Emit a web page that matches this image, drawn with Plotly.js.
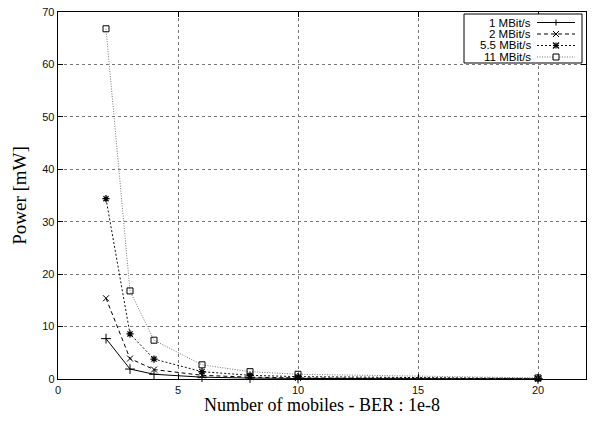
<!DOCTYPE html>
<html>
<head>
<meta charset="utf-8">
<script src="https://cdn.plot.ly/plotly-3.0.1.min.js"></script>
<style>
  html, body { margin: 0; padding: 0; background: #fff; }
  #chart { width: 593px; height: 421px; }
</style>
</head>
<body>
<div id="chart"></div>
<script>
// Number of mobiles (x) and transmit power in mW for each data rate
const mobiles = [2, 3, 4, 6, 8, 10, 20];
const power1   = [7.7, 1.9, 0.9, 0.35, 0.18, 0.1, 0.03];
const power2   = [15.4, 3.9, 1.8, 0.7, 0.35, 0.2, 0.05];
const power5_5 = [34.4, 8.6, 3.8, 1.4, 0.7, 0.45, 0.1];
const power11  = [66.8, 16.8, 7.4, 2.7, 1.4, 0.9, 0.2];
const seriesNames = ['1 MBit/s', '2 MBit/s', '5.5 MBit/s', '11 MBit/s'];

const styles = [
  { dash: 'solid',     color: '#000', symbol: 'cross-thin-open',  size: 7, mw: 1 },
  { dash: '4px,3px',   color: '#000', symbol: 'x-thin-open',      size: 6, mw: 1 },
  { dash: '2px,2px',   color: '#111', symbol: 'asterisk-open',    size: 6, mw: 1.3 },
  { dash: '1px,1.5px', color: '#777', symbol: 'square-open',      size: 6, mw: 1 }
];
const allValues = [power1, power2, power5_5, power11];

const traces = allValues.map((vals, i) => ({
  type: 'scatter',
  mode: 'lines+markers',
  x: mobiles,
  y: vals,
  name: seriesNames[i],
  line: { color: styles[i].color, width: 1, dash: styles[i].dash },
  marker: { symbol: styles[i].symbol, size: styles[i].size, color: '#000',
            line: { color: '#000', width: styles[i].mw } },
  showlegend: false,
  cliponaxis: false
}));

// Plot area in pixels, used to place the boxed key in the top-right corner
const W = 593, H = 421;
const M = { l: 58, r: 7, t: 12, b: 42 };
const pw = W - M.l - M.r, ph = H - M.t - M.b;
const px = X => (X - M.l) / pw;
const py = Y => (H - M.b - Y) / ph;

const shapes = [];
const annotations = [];
// key frame
shapes.push({ type: 'rect', xref: 'paper', yref: 'paper',
  x0: px(464), x1: px(582), y0: py(63), y1: py(14),
  line: { color: '#000', width: 1 }, fillcolor: '#fff', layer: 'above' });

const rowY = [22.5, 34, 45.5, 57];
const sx0 = 537, sx1 = 575, sm = 556;
rowY.forEach((Y, i) => {
  annotations.push({ xref: 'paper', yref: 'paper', x: px(532), y: py(Y),
    xanchor: 'right', yanchor: 'middle', showarrow: false, borderpad: 0,
    text: seriesNames[i], font: { family: 'Liberation Sans, Arial', size: 11.5, color: '#000' } });
  shapes.push({ type: 'line', xref: 'paper', yref: 'paper', layer: 'above',
    x0: px(sx0), x1: px(sx1), y0: py(Y), y1: py(Y),
    line: { color: styles[i].color, width: 1, dash: styles[i].dash } });
  const r = 3;
  const seg = (a, b, c, d, w) => shapes.push({ type: 'line', xref: 'paper', yref: 'paper', layer: 'above',
    x0: px(a), y0: py(b), x1: px(c), y1: py(d), line: { color: '#000', width: w || 1 } });
  if (i === 0) { seg(sm - r, Y, sm + r, Y); seg(sm, Y - r, sm, Y + r); }
  if (i === 1) { seg(sm - r, Y - r, sm + r, Y + r); seg(sm - r, Y + r, sm + r, Y - r); }
  if (i === 2) {
    seg(sm - r, Y, sm + r, Y, 1.2); seg(sm, Y - r, sm, Y + r, 1.2);
    seg(sm - r, Y - r, sm + r, Y + r, 1.2); seg(sm - r, Y + r, sm + r, Y - r, 1.2);
  }
  if (i === 3) {
    shapes.push({ type: 'rect', xref: 'paper', yref: 'paper', layer: 'above',
      x0: px(sm - r), x1: px(sm + r), y0: py(Y + r), y1: py(Y - r),
      line: { color: '#000', width: 1 }, fillcolor: '#fff' });
  }
});

const axisCommon = {
  showline: true, mirror: 'ticks', linecolor: '#000', linewidth: 1.3,
  ticks: 'inside', ticklen: 5, tickcolor: '#000', tickwidth: 1,
  showgrid: true, gridcolor: '#777', griddash: 'dot', gridwidth: 1,
  zeroline: false,
  tickfont: { family: 'Liberation Sans, Arial', size: 11, color: '#111' }
};

const layout = {
  width: W, height: H,
  margin: M,
  paper_bgcolor: '#fff', plot_bgcolor: '#fff',
  showlegend: false,
  xaxis: Object.assign({}, axisCommon, {
    range: [0, 22], dtick: 5, tick0: 0,
    title: { text: 'Number of mobiles - BER : 1e-8', standoff: 0,
      font: { family: 'Liberation Serif, Times New Roman', size: 18, color: '#000' } }
  }),
  yaxis: Object.assign({}, axisCommon, {
    range: [0, 70], dtick: 10, tick0: 0,
    title: { text: 'Power [mW]', standoff: 10,
      font: { family: 'Liberation Serif, Times New Roman', size: 19, color: '#000' } }
  }),
  shapes: shapes,
  annotations: annotations
};

Plotly.newPlot('chart', traces, layout, { displayModeBar: false, staticPlot: true });
</script>
</body>
</html>
